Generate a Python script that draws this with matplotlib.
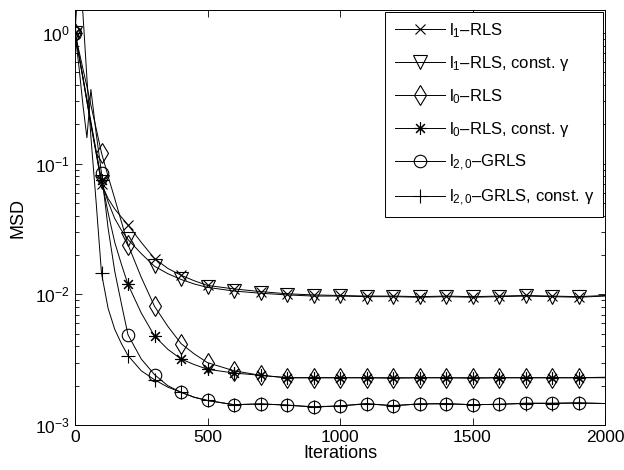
import matplotlib
matplotlib.use("Agg")
import matplotlib.pyplot as plt

plt.rcParams["font.family"] = ["Liberation Sans", "DejaVu Sans"]
plt.rcParams["mathtext.fontset"] = "custom"
plt.rcParams["mathtext.rm"] = "Liberation Sans"
plt.rcParams["mathtext.it"] = "Liberation Sans:italic"
plt.rcParams["mathtext.bf"] = "Liberation Sans:bold"

# iteration grid shared by all curves
ITERS = [0, 15, 30, 45, 60, 80, 100, 125, 150, 175, 200, 250, 300, 350, 400, 450,
         500, 600, 700, 800, 900, 1000, 1100, 1200, 1300, 1400, 1500, 1600, 1700,
         1800, 1900, 2000]

L1_RLS = [1.0, 0.67, 0.45, 0.30, 0.20, 0.12, 0.070, 0.054, 0.045, 0.039, 0.034, 0.025,
          0.0188, 0.0158, 0.0140, 0.0127, 0.0117, 0.0110, 0.0105, 0.0101, 0.0099, 0.0098,
          0.0097, 0.0097, 0.0096, 0.0097, 0.0096, 0.0097, 0.0098, 0.0097, 0.0096, 0.0098]
L1_RLS_CONST = [1.0, 0.67, 0.45, 0.30, 0.20, 0.12, 0.072, 0.051, 0.038, 0.031, 0.0263, 0.0205,
                0.0164, 0.0144, 0.0130, 0.0120, 0.0113, 0.0106, 0.0102, 0.0099, 0.0097, 0.0097,
                0.0096, 0.0096, 0.0095, 0.0096, 0.0095, 0.0096, 0.0097, 0.0096, 0.0095, 0.0097]
L0_RLS = [1.0, 0.73, 0.53, 0.39, 0.28, 0.185, 0.121, 0.080, 0.054, 0.036, 0.024, 0.0135,
          0.0081, 0.0057, 0.0042, 0.0035, 0.0030, 0.0026, 0.0024, 0.0023, 0.0023, 0.0023,
          0.0023, 0.0023, 0.0023, 0.0023, 0.0023, 0.0023, 0.0023, 0.0023, 0.0023, 0.0023]
L0_RLS_CONST = [1.0, 0.68, 0.46, 0.31, 0.21, 0.125, 0.075, 0.042, 0.025, 0.017, 0.0119, 0.0072,
                0.0048, 0.0038, 0.0032, 0.0029, 0.00267, 0.0025, 0.0024, 0.0023, 0.0023, 0.0023,
                0.0023, 0.00228, 0.0023, 0.0023, 0.00228, 0.0023, 0.0023, 0.0023, 0.0023, 0.00232]
L20_GRLS = [1.0, 0.55, 0.28, 0.158, 0.37, 0.17, 0.085, 0.032, 0.015, 0.0085, 0.0049, 0.0032,
            0.00243, 0.0020, 0.00178, 0.00163, 0.00154, 0.00143, 0.00145, 0.00142, 0.00137,
            0.00140, 0.00146, 0.00140, 0.00145, 0.00146, 0.00143, 0.00144, 0.00147, 0.00147,
            0.00148, 0.00146]
L20_GRLS_CONST = [1.0, 3.0, 1.4, 0.45, 0.16, 0.05, 0.0145, 0.0078, 0.0054, 0.0042, 0.0034, 0.0026,
                  0.00222, 0.00195, 0.00178, 0.00163, 0.00154, 0.00143, 0.00145, 0.00142, 0.00138,
                  0.00140, 0.00145, 0.00141, 0.00145, 0.00145, 0.00143, 0.00144, 0.00146, 0.00146,
                  0.00147, 0.00146]

SERIES = [L1_RLS, L1_RLS_CONST, L0_RLS, L0_RLS_CONST, L20_GRLS, L20_GRLS_CONST]
LABELS = [
    r"$\mathrm{l}_\mathrm{1}$–RLS",
    r"$\mathrm{l}_\mathrm{1}$–RLS, const. γ",
    r"$\mathrm{l}_\mathrm{0}$–RLS",
    r"$\mathrm{l}_\mathrm{0}$–RLS, const. γ",
    r"$\mathrm{l}_\mathrm{2,0}$–GRLS",
    r"$\mathrm{l}_\mathrm{2,0}$–GRLS, const. γ",
]
MARKERS = ["x", "v", "d", (8, 2, 0), "o", "+"]
SIZES = [7.5, 9.5, 10, 9, 9, 10]

mark_idx = [i for i, t in enumerate(ITERS) if t % 100 == 0 and t < 2000]

fig = plt.figure(figsize=(6.24, 4.70), dpi=100)
ax = fig.add_axes([75 / 624, 45 / 470, 530 / 624, 415 / 470])

for ys, lab, mk, ms in zip(SERIES, LABELS, MARKERS, SIZES):
    ax.plot(ITERS, ys, color="black", linewidth=0.7, marker=mk, markersize=ms,
            markerfacecolor="none", markeredgecolor="black", markeredgewidth=0.8,
            markevery=mark_idx, label=lab)

ax.set_yscale("log")
ax.set_xlim(0, 2000)
ax.set_ylim(1e-3, 1.5)
ax.set_xticks([0, 500, 1000, 1500, 2000])
ax.tick_params(which="both", direction="in", top=True, right=True, labelsize=12.5, width=0.6)
ax.tick_params(which="major", length=5)
ax.tick_params(which="minor", length=3)
for sp in ax.spines.values():
    sp.set_linewidth(0.7)
ax.set_xlabel("Iterations", fontsize=13, labelpad=0)
ax.set_ylabel("MSD", fontsize=13, labelpad=6)

leg = ax.legend(loc="upper right", fontsize=12, handlelength=3.0, labelspacing=0.85,
                borderaxespad=0.1, fancybox=False, framealpha=1, edgecolor="black",
                handletextpad=0.25, borderpad=0.55)
leg.get_frame().set_linewidth(0.7)

fig.savefig("out.png", dpi=100)
